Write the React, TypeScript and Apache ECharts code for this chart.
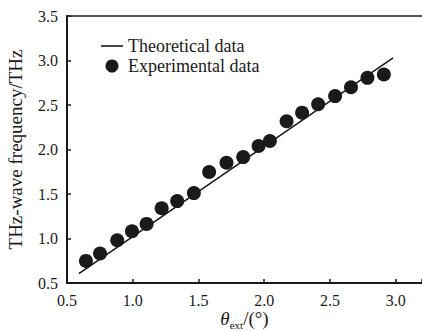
import React, { useEffect, useRef } from "react";
import * as echarts from "echarts";

const expX = [0.644, 0.751, 0.882, 0.994, 1.105, 1.22, 1.338, 1.465, 1.581, 1.713, 1.84, 1.957, 2.043, 2.17, 2.288, 2.41, 2.539, 2.66, 2.785, 2.91];
const expY = [0.748, 0.831, 0.981, 1.082, 1.164, 1.34, 1.42, 1.51, 1.747, 1.851, 1.915, 2.04, 2.096, 2.317, 2.414, 2.509, 2.6, 2.7, 2.805, 2.842];
const theoX = [0.59, 2.98];
const theoY = [0.606, 3.03];
const xTicks = [0.5, 1.0, 1.5, 2.0, 2.5, 3.0];
const yTicks = [0.5, 1.0, 1.5, 2.0, 2.5, 3.0, 3.5];
const seriesNames = ["Theoretical data", "Experimental data"];

const FONT = "Liberation Serif";
const INK = "#1a1a1a";

export default function App() {
  const ref = useRef<HTMLDivElement>(null);
  useEffect(() => {
    if (!ref.current) return;
    const chart = echarts.init(ref.current, undefined, { renderer: "svg" });
    chart.setOption({
      animation: false,
      backgroundColor: "#ffffff",
      textStyle: { fontFamily: FONT },
      grid: { left: 67, top: 16, right: 0, bottom: 48, containLabel: false, outerBoundsMode: "none" },
      legend: {
        orient: "vertical",
        left: 96,
        top: 32,
        itemWidth: 22,
        itemHeight: 13,
        itemGap: 2,
        textStyle: { fontFamily: FONT, fontSize: 18, color: INK },
        data: [
          { name: seriesNames[0], icon: "path://M0,0 L22,0 L22,1.6 L0,1.6 Z" },
          { name: seriesNames[1], icon: "circle" },
        ],
      },
      xAxis: [
        {
          type: "value",
          min: 0.5,
          max: 3.2,
          interval: 0.5,
          axisLine: { show: true, lineStyle: { color: INK, width: 2 } },
          axisTick: { show: true, inside: true, length: 4, lineStyle: { color: INK, width: 1.5 } },
          splitLine: { show: false },
          axisLabel: {
            margin: 9,
            fontFamily: FONT,
            fontSize: 16,
            color: INK,
            formatter: (v: number) => (xTicks.includes(Math.round(v * 10) / 10) ? v.toFixed(1) : ""),
          },
          name: "{i|θ}{s|ext}{n|/(°)}",
          nameLocation: "middle",
          nameGap: 26,
          nameMoveOverlap: false,
          nameTextStyle: {
            fontFamily: FONT,
            rich: {
              i: { fontFamily: FONT, fontSize: 19, fontStyle: "italic", color: INK, verticalAlign: "bottom" },
              s: { fontFamily: FONT, fontSize: 11, color: INK, verticalAlign: "bottom", padding: [0, 0, -2, 0] },
              n: { fontFamily: FONT, fontSize: 19, color: INK, verticalAlign: "bottom" },
            },
          },
        },
        {
          type: "value",
          position: "top",
          min: 0.5,
          max: 3.2,
          axisLine: { show: true, onZero: false, lineStyle: { color: INK, width: 1.5 } },
          axisTick: { show: false },
          axisLabel: { show: false },
          splitLine: { show: false },
        },
      ],
      yAxis: {
        type: "value",
        min: 0.5,
        max: 3.5,
        interval: 0.5,
        axisLine: { show: true, lineStyle: { color: INK, width: 2 } },
        axisTick: { show: true, inside: true, length: 4, lineStyle: { color: INK, width: 1.5 } },
        splitLine: { show: false },
        axisLabel: {
          margin: 9,
          fontFamily: FONT,
          fontSize: 16,
          color: INK,
          formatter: (v: number) => (yTicks.includes(Math.round(v * 10) / 10) ? v.toFixed(1) : ""),
        },
        name: "THz-wave frequency/THz",
        nameLocation: "middle",
        nameGap: 42,
        nameMoveOverlap: false,
        nameTextStyle: { fontFamily: FONT, fontSize: 19, color: INK },
      },
      series: [
        {
          name: seriesNames[0],
          type: "line",
          data: theoX.map((x, i) => [x, theoY[i]]),
          symbol: "none",
          lineStyle: { color: INK, width: 1.6 },
          itemStyle: { color: INK },
          z: 2,
        },
        {
          name: seriesNames[1],
          type: "scatter",
          data: expX.map((x, i) => [x, expY[i]]),
          symbol: "circle",
          symbolSize: 14,
          itemStyle: { color: INK, opacity: 1 },
          z: 3,
        },
      ],
    });
    return () => chart.dispose();
  }, []);
  return <div ref={ref} style={{ position: "fixed", left: 0, top: 0, width: 422, height: 331 }} />;
}
